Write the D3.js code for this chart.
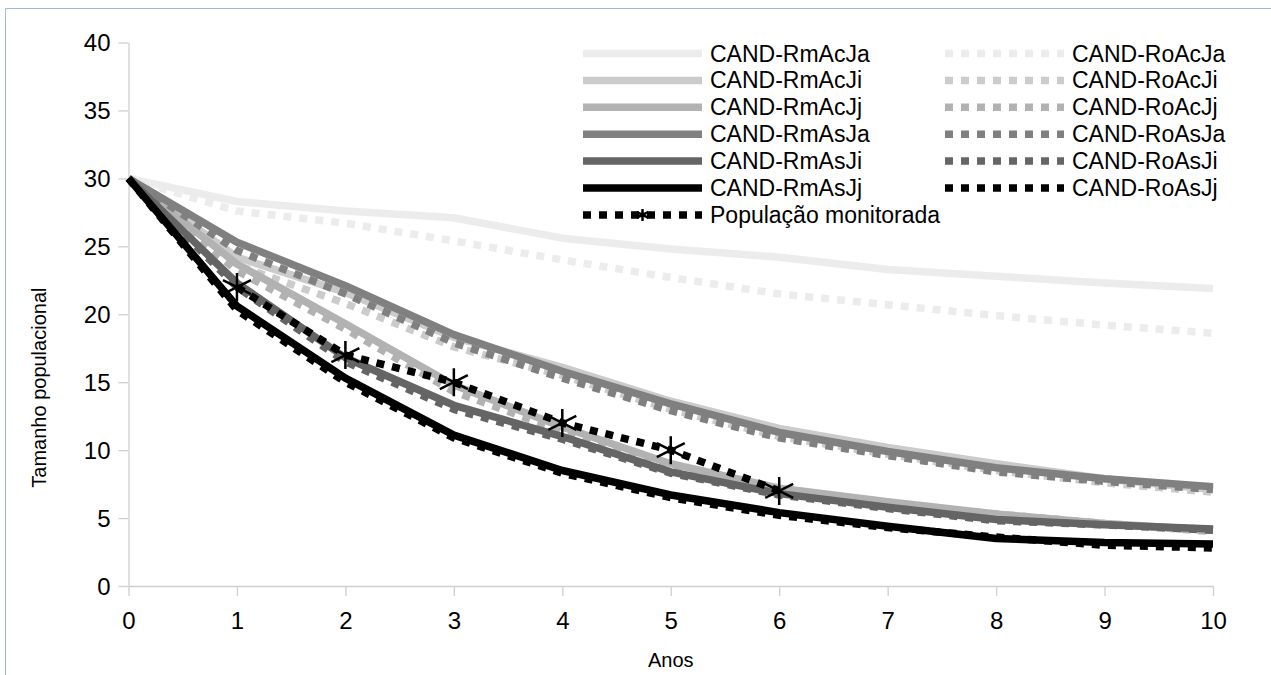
<!DOCTYPE html>
<html>
<head>
<meta charset="utf-8">
<script src="https://cdn.jsdelivr.net/npm/d3@7"></script>
<style>
  html, body { margin: 0; padding: 0; background: #fff; }
  svg { display: block; font-family: "Liberation Sans", Arial, sans-serif; }
</style>
</head>
<body>
<svg id="chart" width="1271" height="675"></svg>
<script>
// ---- data ----
const years = [0, 1, 2, 3, 4, 5, 6, 7, 8, 9, 10];
const yTicks = [0, 5, 10, 15, 20, 25, 30, 35, 40];

const RmAcJa = [30, 28.3, 27.6, 27.1, 25.6, 24.8, 24.2, 23.3, 22.8, 22.3, 21.9];
const RoAcJa = [30, 27.6, 26.7, 25.4, 24.0, 22.7, 21.5, 20.7, 19.9, 19.2, 18.6];
const RmAcJi = [30, 24.2, 21.6, 18.3, 16.1, 13.6, 11.6, 10.2, 9.0, 7.9, 7.1];
const RoAcJi = [30, 23.6, 20.8, 17.6, 15.5, 13.0, 11.0, 9.7, 8.5, 7.6, 6.9];
const RmAcJj = [30, 23.7, 19.3, 14.8, 11.7, 9.0, 7.2, 6.2, 5.3, 4.6, 4.1];
const RoAcJj = [30, 23.2, 18.9, 14.3, 11.4, 8.8, 7.0, 6.0, 5.3, 4.6, 4.0];
const RmAsJa = [30, 25.3, 22.1, 18.5, 15.8, 13.4, 11.3, 9.9, 8.7, 7.9, 7.3];
const RoAsJa = [30, 24.7, 21.5, 17.9, 15.3, 12.9, 10.9, 9.6, 8.4, 7.7, 7.1];
const RmAsJi = [30, 22.3, 16.8, 13.3, 11.0, 8.4, 6.8, 5.8, 4.9, 4.5, 4.2];
const RoAsJi = [30, 22.0, 16.5, 13.0, 10.8, 8.3, 6.7, 5.7, 4.8, 4.5, 4.1];
const RmAsJj = [30, 20.6, 15.3, 11.1, 8.5, 6.7, 5.4, 4.4, 3.5, 3.2, 3.1];
const RoAsJj = [30, 20.3, 15.0, 10.9, 8.3, 6.5, 5.2, 4.3, 3.6, 3.0, 2.8];
const monitoredYears = [1, 2, 3, 4, 5, 6];
const monitored = [22, 17, 15, 12, 10, 7];

const seriesNames = ["CAND-RmAcJa", "CAND-RoAcJa", "CAND-RmAcJi", "CAND-RoAcJi",
  "CAND-RmAcJj", "CAND-RoAcJj", "CAND-RmAsJa", "CAND-RoAsJa",
  "CAND-RmAsJi", "CAND-RoAsJi", "CAND-RmAsJj", "CAND-RoAsJj"];
const seriesValues = [RmAcJa, RoAcJa, RmAcJi, RoAcJi, RmAcJj, RoAcJj,
  RmAsJa, RoAsJa, RmAsJi, RoAsJi, RmAsJj, RoAsJj];
const seriesColors = ["#ececec", "#ececec", "#cbcbcb", "#cbcbcb", "#b2b2b2", "#b2b2b2",
  "#808080", "#808080", "#656565", "#656565", "#000000", "#000000"];
const seriesDotted = [false, true, false, true, false, true, false, true, false, true, false, true];
const monitoredName = "População monitorada";

// ---- layout ----
const svg = d3.select("#chart");
const x = d3.scaleLinear().domain([0, 10]).range([128.5, 1213]);
const y = d3.scaleLinear().domain([0, 40]).range([586, 42.5]);
const LW = 7.5;
const DASH = "8,8";

// frame
svg.append("path")
  .attr("d", "M5.5,680 L5.5,8.5 L1280,8.5")
  .attr("fill", "none").attr("stroke", "#9db8dc").attr("stroke-width", 1);

// axes
const axisColor = "#d0d0d0";
const xAxis = svg.append("g").attr("transform", `translate(0,${y(0)})`)
  .call(d3.axisBottom(x).tickValues(years).tickFormat(d3.format("d")).tickSize(10).tickSizeOuter(0));
const yAxis = svg.append("g").attr("transform", `translate(${x(0)},0)`)
  .call(d3.axisLeft(y).tickValues(yTicks).tickFormat(d3.format("d")).tickSize(10).tickSizeOuter(0));
[xAxis, yAxis].forEach(g => {
  g.select(".domain").attr("stroke", axisColor).attr("stroke-width", 1.3);
  g.selectAll(".tick line").attr("stroke", axisColor).attr("stroke-width", 1.3);
  g.selectAll(".tick text").attr("fill", "#000").style("font-size", "24px")
    .style("font-family", "'Liberation Sans', Arial, sans-serif");
});
xAxis.selectAll(".tick text").attr("dy", "0.71em").attr("y", 26);
yAxis.selectAll(".tick text").attr("x", -18).attr("dy", "0.35em");

// axis titles
svg.append("text").attr("x", x(5)).attr("y", 667).attr("text-anchor", "middle")
  .style("font-size", "20px").text("Anos");
svg.append("text").attr("transform", `translate(46,${y(14.6)}) rotate(-90)`)
  .attr("text-anchor", "middle").style("font-size", "20px").text("Tamanho populacional");

// lines
const line = d3.line().x((d, i) => x(years[i])).y(d => y(d));
const plot = svg.append("g");
seriesValues.forEach((vals, k) => {
  plot.append("path").datum(vals)
    .attr("d", line)
    .attr("fill", "none")
    .attr("stroke", seriesColors[k])
    .attr("stroke-width", LW)
    .attr("stroke-linejoin", "round")
    .attr("stroke-dasharray", seriesDotted[k] ? DASH : null);
});

// monitored population
const mLine = d3.line().x((d, i) => x(monitoredYears[i])).y(d => y(d));
plot.append("path").datum(monitored).attr("d", mLine)
  .attr("fill", "none").attr("stroke", "#000").attr("stroke-width", LW)
  .attr("stroke-dasharray", DASH);

function star(g, cx, cy, r, sw) {
  const p = `M${cx},${cy - r}L${cx},${cy + r}` +
    `M${cx - r},${cy - r * 0.5}L${cx + r},${cy + r * 0.5}` +
    `M${cx - r},${cy + r * 0.5}L${cx + r},${cy - r * 0.5}`;
  g.append("path").attr("d", p).attr("stroke", "#000").attr("stroke-width", sw).attr("fill", "none");
}
monitored.forEach((v, i) => star(plot, x(monitoredYears[i]), y(v), 14, 2.5));

// legend
const leg = svg.append("g").style("font-size", "23px");
const rowY0 = 53.5, rowH = 26.9;
const cols = [{x1: 583, x2: 702, tx: 710}, {x1: 945, x2: 1064, tx: 1072}];
seriesNames.forEach((name, k) => {
  const c = cols[k % 2];
  const row = Math.floor(k / 2);
  const yy = rowY0 + row * rowH;
  leg.append("line").attr("x1", c.x1).attr("x2", c.x2).attr("y1", yy).attr("y2", yy)
    .attr("stroke", seriesColors[k]).attr("stroke-width", LW)
    .attr("stroke-dasharray", seriesDotted[k] ? DASH : null);
  leg.append("text").attr("x", c.tx).attr("y", yy).attr("dy", "0.35em").text(name);
});
{
  const c = cols[0];
  const yy = rowY0 + 6 * rowH;
  leg.append("line").attr("x1", c.x1).attr("x2", c.x2).attr("y1", yy).attr("y2", yy)
    .attr("stroke", "#000").attr("stroke-width", LW).attr("stroke-dasharray", DASH);
  star(leg, (c.x1 + c.x2) / 2, yy, 6, 2.5);
  leg.append("text").attr("x", c.tx).attr("y", yy).attr("dy", "0.35em").text(monitoredName);
}
</script>
</body>
</html>
